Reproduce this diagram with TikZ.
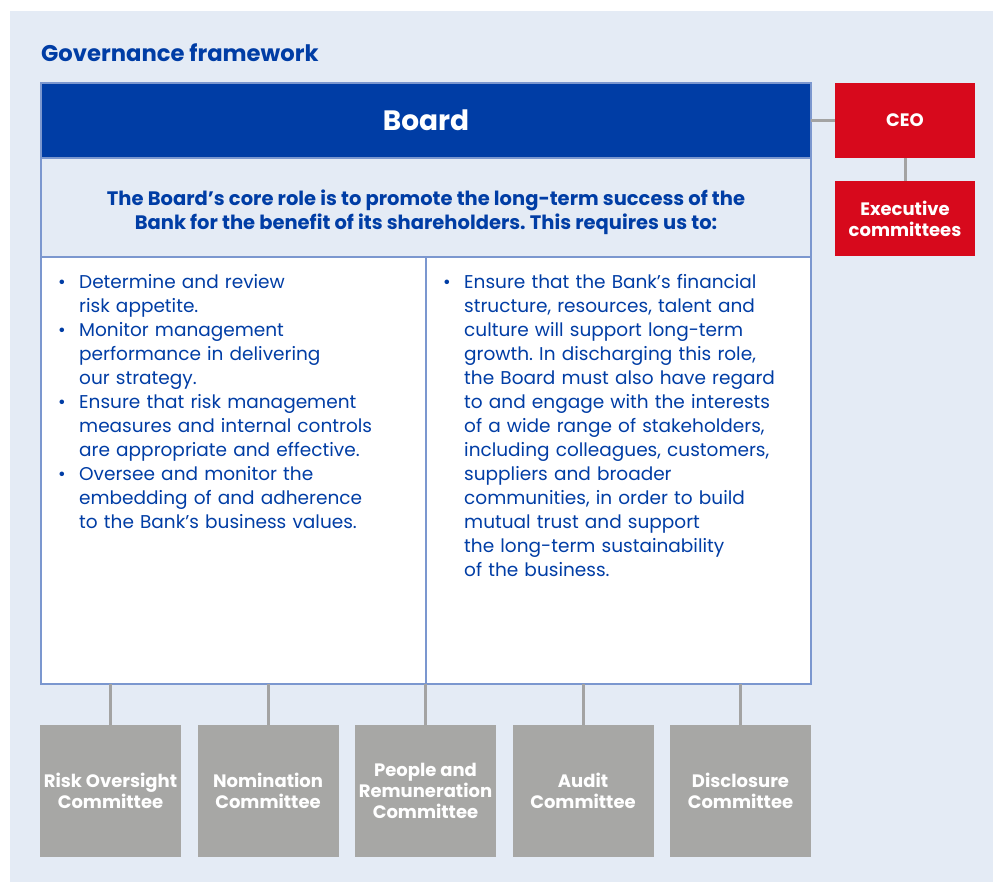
\documentclass[tikz,border=0pt]{standalone}
\usepackage{fontspec}
\setmainfont{Poppins}
\usetikzlibrary{positioning}
\frenchspacing
\definecolor{boardblue}{HTML}{003DA5}
\definecolor{paleblue}{HTML}{E4EBF5}
\definecolor{edgeblue}{HTML}{7B97CF}
\definecolor{ceored}{HTML}{D7091C}
\definecolor{cmtegray}{HTML}{A7A7A5}
\definecolor{linkgray}{HTML}{A3A3A3}
\newcommand{\bitem}{\par\noindent\hangindent=21pt\hangafter=1\hbox to 21pt{\textbullet\hfil}}
\begin{document}
\begin{tikzpicture}[x=1pt,y=-1pt,
  panel/.style={draw=edgeblue,line width=1.2pt,inner sep=0pt,outer sep=0pt,
    minimum width=770pt},
  boardbox/.style={panel,fill=boardblue,text=white,minimum height=75pt,
    font=\fontsize{28}{34}\selectfont\bfseries},
  introbox/.style={panel,fill=paleblue,text=boardblue,minimum height=99pt,
    align=center,font=\fontsize{19.5}{24}\selectfont\bfseries},
  colbox/.style={panel,fill=white,minimum width=385pt,minimum height=427pt},
  listtext/.style={anchor=north west,inner sep=0pt,text width=360pt,
    text=boardblue,font=\fontsize{18.5}{24}\selectfont},
  redbox/.style={fill=ceored,text=white,minimum width=140pt,minimum height=75pt,
    inner sep=0pt,outer sep=0pt,align=center,font=\fontsize{18}{21}\selectfont\bfseries},
  cmte/.style={fill=cmtegray,text=white,minimum width=141pt,minimum height=132pt,
    inner sep=0pt,outer sep=0pt,align=center,font=\fontsize{18}{21}\selectfont\bfseries},
  link/.style={draw=linkgray,line width=3pt},node distance=16.5pt]
 \useasboundingbox (0,0) rectangle (993,882);
 \fill[paleblue] (10,11) rectangle (993,882);
 \node[anchor=base west,inner sep=0pt,text=boardblue,
   font=\fontsize{22.7}{28}\selectfont\bfseries] (title) at (41,61.5) {Governance framework};
 % board panel
 \node[boardbox,anchor=north west] (board) at (41,83) {Board};
 \node[introbox,below=0pt of board] (intro)
   {\rule{0pt}{26pt}The Board’s core role is to promote the long-term success of the\\
    Bank for the benefit of its shareholders. This requires us to:};
 \node[colbox,anchor=north west] (left) at (intro.south west) {};
 \node[colbox,right=0pt of left] (right) {};
 \node[listtext] (lefttext) at (58,264)
   {\bitem Determine and review\newline risk appetite.
    \bitem Monitor management\newline performance in delivering\newline our strategy.
    \bitem Ensure that risk management\newline measures and internal controls\newline
      are appropriate and effective.
    \bitem Oversee and monitor the\newline embedding of and adherence\newline
      to the Bank’s business values.\par};
 \node[listtext] (righttext) at (443,264)
   {\bitem Ensure that the Bank’s financial\newline structure, resources, talent and\newline
    culture will support long-term\newline growth. In discharging this role,\newline
    the Board must also have regard\newline to and engage with the interests\newline
    of a wide range of stakeholders,\newline including colleagues, customers,\newline
    suppliers and broader\newline communities, in order to build\newline
    mutual trust and support\newline the long-term sustainability\newline of the business.\par};
 % executive side
 \node[redbox,anchor=north west] (ceo) at (835,83) {CEO};
 \node[redbox,below=23pt of ceo] (exec) {Executive\\committees};
 \draw[link] (board) -- (ceo);
 \draw[link] (ceo) -- (exec);
 % committees
 \node[cmte,anchor=north west] (risk) at (40,725) {Risk Oversight\\Committee};
 \node[cmte,right=of risk] (nom) {Nomination\\Committee};
 \node[cmte,right=of nom] (people) {People and\\Remuneration\\Committee};
 \node[cmte,right=of people] (audit) {Audit\\Committee};
 \node[cmte,right=of audit] (disc) {Disclosure\\Committee};
 \draw[link] (risk.north) -- (risk.north |- left.south);
 \draw[link] (nom.north) -- (nom.north |- left.south);
 \draw[link] (people.north) -- (people.north |- left.south);
 \draw[link] (audit.north) -- (audit.north |- right.south);
 \draw[link] (disc.north) -- (disc.north |- right.south);
\end{tikzpicture}
\end{document}
